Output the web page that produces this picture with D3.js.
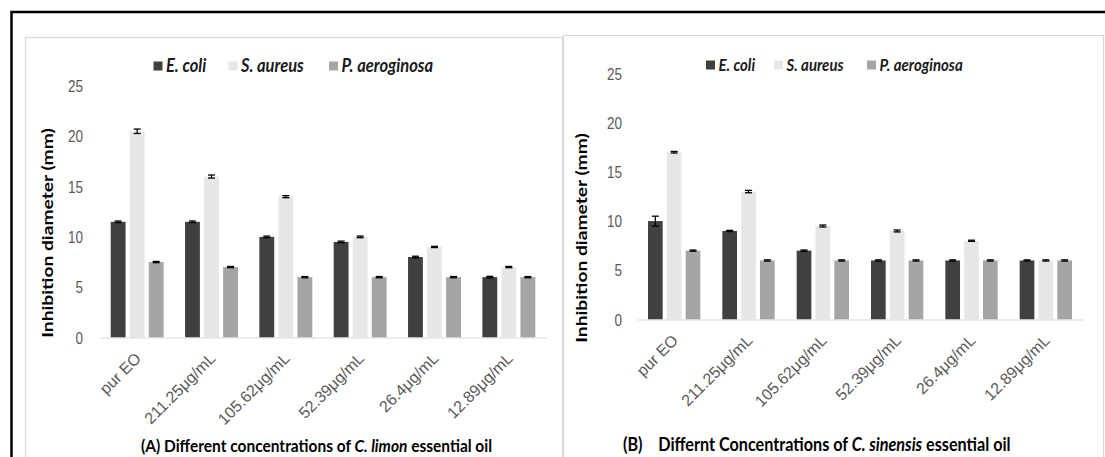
<!DOCTYPE html>
<html>
<head>
<meta charset="utf-8">
<script src="https://cdn.jsdelivr.net/npm/d3@7"></script>
<style>
  body { margin: 0; background: #fff; }
  svg { display: block; font-family: Lato, "Open Sans", sans-serif; }
  .tick-label { fill: #595959; font-size: 13.5px; }
  .x-label { fill: #595959; font-size: 16px; }
  .caption { font-weight: bold; fill: #000; white-space: pre; }
  .ytitle { font-size: 15px; font-weight: bold; fill: #000; }
  .legend text { font-weight: bold; font-style: italic; fill: #1a1a1a; }
</style>
</head>
<body>
<div id="chart"></div>
<script>
// categories and series
const concentrations = ['pur EO', '211.25\u03bcg/mL', '105.62\u03bcg/mL', '52.39\u03bcg/mL', '26.4\u03bcg/mL', '12.89\u03bcg/mL'];
const bacteria = ['E. coli', 'S. aureus', 'P. aeroginosa'];
const barColors = ['#404040', '#e7e7e7', '#a5a5a5'];
const yTicks = [0, 5, 10, 15, 20, 25];

// (A) C. limon
const limonEcoli = [11.5, 11.5, 10, 9.5, 8, 6];
const limonSaureus = [20.5, 16, 14, 10, 9, 7];
const limonPaeruginosa = [7.5, 7, 6, 6, 6, 6];
const limonEcoliErr = [0.08, 0.08, 0.08, 0.08, 0.08, 0.08];
const limonSaureusErr = [0.22, 0.15, 0.1, 0.08, 0.06, 0.06];
const limonPaeruginosaErr = [0.06, 0.06, 0.06, 0.06, 0.06, 0.06];

// (B) C. sinensis
const sinensisEcoli = [10, 9, 7, 6, 6, 6];
const sinensisSaureus = [17, 13, 9.5, 9, 8, 6];
const sinensisPaeruginosa = [7, 6, 6, 6, 6, 6];
const sinensisEcoliErr = [0.5, 0.06, 0.06, 0.06, 0.06, 0.06];
const sinensisSaureusErr = [0.08, 0.12, 0.1, 0.1, 0.06, 0.06];
const sinensisPaeruginosaErr = [0.06, 0.06, 0.06, 0.06, 0.06, 0.06];

const width = 1105, height = 457;
// the source figure is stretched vertically, text included
const stretch = 1.28;

const svg = d3.select('#chart')
    .append('svg')
    .attr('width', width)
    .attr('height', height);

// outer black frame (top + left only visible)
svg.append('path')
    .attr('d', `M11.5,${height} L11.5,12 L${width},12`)
    .attr('fill', 'none')
    .attr('stroke', '#000')
    .attr('stroke-width', 2.5);

function drawPanel(cfg) {
    const g = svg.append('g');

    // light panel frame
    g.append('rect')
        .attr('x', cfg.box[0] + 0.5)
        .attr('y', cfg.box[1] + 0.5)
        .attr('width', cfg.box[2] - cfg.box[0])
        .attr('height', height + 10 - cfg.box[1])
        .attr('fill', 'none')
        .attr('stroke', '#d9d9d9')
        .attr('stroke-width', 1.2);

    const x = d3.scaleBand()
        .domain(concentrations)
        .range([cfg.x0, cfg.x1])
        .padding(0);

    const xs = d3.scaleBand()
        .domain(bacteria)
        .range([cfg.inner, x.bandwidth() - cfg.inner])
        .paddingInner(0.22);

    const y = d3.scaleLinear()
        .domain([0, 25])
        .range([cfg.y0, cfg.y1]);

    // bars
    const rows = [];
    concentrations.forEach((c, i) => {
        bacteria.forEach((b, j) => {
            rows.push({ c, b, j, v: cfg.values[j][i], e: cfg.errors[j][i] });
        });
    });

    g.selectAll('.bar')
        .data(rows)
        .enter()
        .append('rect')
        .attr('class', 'bar')
        .attr('x', d => x(d.c) + xs(d.b))
        .attr('width', xs.bandwidth())
        .attr('y', d => y(d.v))
        .attr('height', d => y(0) - y(d.v))
        .attr('fill', d => barColors[d.j]);

    // error bars
    const eb = g.selectAll('.err')
        .data(rows)
        .enter()
        .append('g')
        .attr('class', 'err')
        .attr('transform', d => `translate(${x(d.c) + xs(d.b) + xs.bandwidth() / 2},0)`);
    eb.append('line')
        .attr('y1', d => y(d.v - d.e))
        .attr('y2', d => y(d.v + d.e))
        .attr('stroke', '#000')
        .attr('stroke-width', 1.2);
    eb.append('line')
        .attr('x1', -3.5).attr('x2', 3.5)
        .attr('y1', d => y(d.v + d.e)).attr('y2', d => y(d.v + d.e))
        .attr('stroke', '#000')
        .attr('stroke-width', 1.3);
    eb.append('line')
        .attr('x1', -3.5).attr('x2', 3.5)
        .attr('y1', d => y(d.v - d.e)).attr('y2', d => y(d.v - d.e))
        .attr('stroke', '#000')
        .attr('stroke-width', 1.3);

    // x axis: baseline + rotated labels
    const xAxis = g.append('g')
        .attr('transform', `translate(0,${cfg.y0})`)
        .call(d3.axisBottom(x).tickSize(0).tickPadding(0));
    xAxis.select('.domain')
        .attr('stroke', '#d9d9d9')
        .attr('stroke-width', 1.2);
    xAxis.selectAll('text')
        .attr('class', 'x-label')
        .attr('fill', null)
        .attr('font-size', null)
        .attr('font-family', null)
        .attr('y', 0)
        .attr('dy', '0.35em')
        .attr('transform', 'translate(1,18) rotate(-45)')
        .style('text-anchor', 'end');

    // y axis labels only
    const yAxis = g.append('g')
        .attr('transform', `translate(${cfg.tickRight},0)`)
        .call(d3.axisLeft(y).tickValues(yTicks).tickSize(0).tickPadding(0));
    yAxis.select('.domain').remove();
    yAxis.selectAll('text')
        .attr('class', 'tick-label')
        .attr('fill', null)
        .attr('font-size', null)
        .attr('font-family', null)
        .attr('transform', `scale(1,${stretch})`);

    // y title
    g.append('text')
        .attr('class', 'ytitle')
        .attr('transform', `translate(${cfg.titleX},${cfg.titleY}) scale(1,${stretch}) rotate(-90)`)
        .attr('text-anchor', 'middle')
        .attr('dy', '0.35em')
        .text('Inhibition diameter (mm)');

    // legend
    const lg = g.append('g').attr('class', 'legend');
    bacteria.forEach((b, j) => {
        const lx = cfg.legendX[j];
        lg.append('rect')
            .attr('x', lx)
            .attr('y', cfg.legendY - 4.5)
            .attr('width', 9)
            .attr('height', 9)
            .attr('fill', barColors[j]);
        lg.append('text')
            .attr('transform', `translate(${lx + 12.5},${cfg.legendY}) scale(1,1.1)`)
            .attr('dy', '0.35em')
            .style('font-size', cfg.legendSize + 'px')
            .text(b);
    });

    // caption
    const cap = g.append('text')
        .attr('class', 'caption')
        .style('font-size', cfg.captionSize + 'px')
        .attr('transform', `translate(${cfg.captionX},${cfg.captionY}) scale(1,1.15)`);
    cap.append('tspan').text(cfg.caption[0]);
    cap.append('tspan').style('font-style', 'italic').text(cfg.caption[1]);
    cap.append('tspan').text(cfg.caption[2]);
}

drawPanel({
    box: [25, 37, 562],
    x0: 100, x1: 546, inner: 10.7,
    y0: 337.5, y1: 86,
    tickRight: 83,
    titleX: 48, titleY: 233,
    legendX: [153.5, 228.5, 329], legendY: 66, legendSize: 16.5,
    captionX: 141, captionY: 452, captionSize: 15.5,
    caption: ['(A) Different concentrations of ', 'C. limon', ' essential oil'],
    values: [limonEcoli, limonSaureus, limonPaeruginosa],
    errors: [limonEcoliErr, limonSaureusErr, limonPaeruginosaErr]
});

drawPanel({
    box: [563, 35, 1103],
    x0: 637, x1: 1083, inner: 11,
    y0: 319.5, y1: 73.5,
    tickRight: 622,
    titleX: 582, titleY: 238,
    legendX: [706, 774, 867], legendY: 65, legendSize: 15,
    captionX: 623, captionY: 451, captionSize: 16.2,
    caption: ['(B)    Differnt Concentrations of ', 'C. sinensis', ' essential oil'],
    values: [sinensisEcoli, sinensisSaureus, sinensisPaeruginosa],
    errors: [sinensisEcoliErr, sinensisSaureusErr, sinensisPaeruginosaErr]
});
</script>
</body>
</html>
